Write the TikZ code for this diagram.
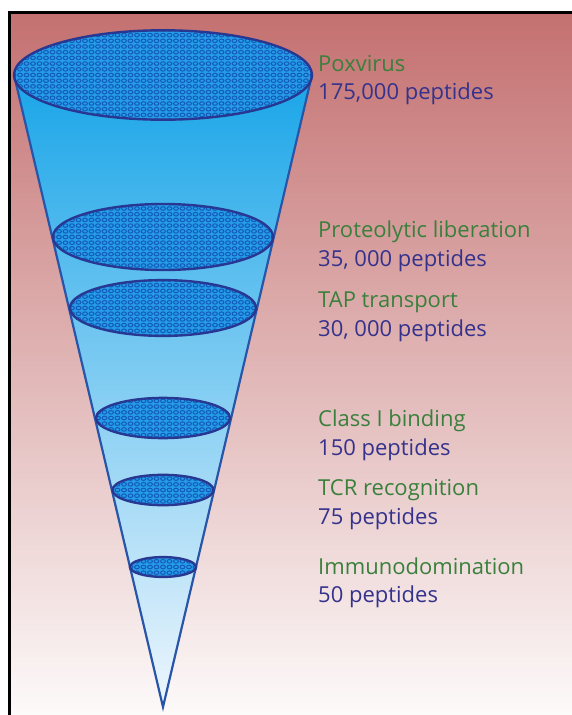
\documentclass[tikz,border=0pt]{standalone}
\usepackage{fontspec}
\setmainfont{Open Sans}
\definecolor{bgtop}{RGB}{196,112,112}
\definecolor{bgmid}{RGB}{218,168,155}
\definecolor{bgbot}{RGB}{253,250,250}
\definecolor{conetop}{RGB}{25,165,232}
\definecolor{conemid}{RGB}{135,196,240}
\definecolor{conebot}{RGB}{238,246,253}
\definecolor{sievefill}{RGB}{38,155,230}
\definecolor{sievedot}{RGB}{18,92,188}
\definecolor{rimblue}{RGB}{40,55,145}
\definecolor{sideblue}{RGB}{40,85,168}
\definecolor{stepgreen}{RGB}{58,128,60}
\definecolor{countblue}{RGB}{52,50,140}

\tikzset{
  rim/.style={rimblue,line width=2.4pt},
  side/.style={sideblue,line width=2.2pt,line join=miter},
  dotring/.style={sievedot,line width=1pt},
  steplabel/.style={anchor=base west,inner sep=0pt,text=stepgreen,font=\fontsize{22}{26}\selectfont},
  countlabel/.style={anchor=base west,inner sep=0pt,text=countblue,font=\fontsize{22}{26}\selectfont}
}

\newcommand{\sievelayer}[2]{%
  \pgfmathsetmacro{\ry}{0.3*#2}
  \pgfmathtruncatemacro{\nx}{#2/6.5+1}
  \pgfmathtruncatemacro{\ny}{\ry/5.7+1}
  \fill[sievefill] (163,#1) ellipse [x radius=#2pt, y radius=\ry pt];
  \begin{scope}
    \clip (163,#1) ellipse [x radius=#2pt, y radius=\ry pt];
    \foreach \i in {-\nx,...,\nx}{
      \foreach \j in {-\ny,...,\ny}{
        \draw[dotring] (163+6.5*\i,#1+5.7*\j) ellipse [x radius=2.4pt, y radius=1.8pt];
      }
    }
  \end{scope}
  \draw[rim] (163,#1) ellipse [x radius=#2pt, y radius=\ry pt];
}

\begin{document}
\begin{tikzpicture}[x=1pt,y=-1pt]
  \useasboundingbox (0,0) rectangle (572,715);
  \fill[white] (0,0) rectangle (572,715);
  \shade[top color=bgtop,middle color=bgmid,bottom color=bgbot] (10,12) rectangle (572,715);
  \draw[line width=3pt] (9.5,715) -- (9.5,12) -- (572,12);

  \shade[top color=conetop,middle color=conemid,bottom color=conebot]
    (14,75) -- (163,707) -- (312,75) -- cycle;
  \draw[side] (14,75) -- (163,707) -- (312,75);

  \foreach \yc/\rx in {75/149, 237/110, 308/93, 418/67, 490/50.5, 567/33}{
    \sievelayer{\yc}{\rx}
  }

  \node[steplabel]  (pox)   at (318,71)  {Poxvirus};
  \node[countlabel] (poxn)  at (318,99.5) {175,000 peptides};
  \node[steplabel]  (prot)  at (318,237.5) {Proteolytic liberation};
  \node[countlabel] (protn) at (318,266) {35, 000 peptides};
  \node[steplabel]  (tap)   at (318,307.5) {TAP transport};
  \node[countlabel] (tapn)  at (318,336.5) {30, 000 peptides};
  \node[steplabel]  (cls)   at (318,426.5) {Class I binding};
  \node[countlabel] (clsn)  at (318,455) {150 peptides};
  \node[steplabel]  (tcr)   at (318,495.5) {TCR recognition};
  \node[countlabel] (tcrn)  at (318,524) {75 peptides};
  \node[steplabel]  (imm)   at (318,574) {Immunodomination};
  \node[countlabel] (immn)  at (318,602.5) {50 peptides};
\end{tikzpicture}
\end{document}
